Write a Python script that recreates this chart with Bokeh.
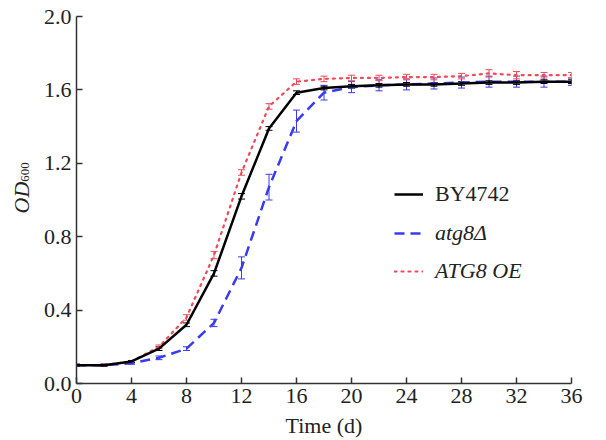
import numpy as np
from bokeh.plotting import figure
from bokeh.layouts import row
from bokeh.models import (ColumnDataSource, Whisker, TeeHead, Legend, LegendItem,
                          FixedTicker, Range1d)
from bokeh.core.properties import value
from bokeh.embed import file_html
from bokeh.resources import INLINE

days = [0, 2, 4, 6, 8, 10, 12, 14, 16, 18, 20, 22, 24, 26, 28, 30, 32, 34, 36]
by4742 = [0.10, 0.10, 0.12, 0.19, 0.32, 0.60, 1.02, 1.39, 1.585, 1.61, 1.62, 1.625, 1.63, 1.63, 1.635, 1.64, 1.64, 1.645, 1.645]
by4742_err = [0.005, 0.005, 0.005, 0.01, 0.01, 0.015, 0.015, 0.01, 0.01, 0.01, 0.01, 0.01, 0.01, 0.01, 0.01, 0.01, 0.01, 0.01, 0.01]
atg8d = [0.10, 0.10, 0.11, 0.14, 0.19, 0.33, 0.63, 1.07, 1.43, 1.585, 1.615, 1.625, 1.63, 1.635, 1.64, 1.645, 1.645, 1.645, 1.645]
atg8d_err = [0.005, 0.005, 0.005, 0.01, 0.01, 0.02, 0.06, 0.07, 0.06, 0.04, 0.03, 0.03, 0.03, 0.03, 0.03, 0.03, 0.03, 0.03, 0.02]
atg8oe = [0.10, 0.10, 0.12, 0.20, 0.36, 0.70, 1.15, 1.51, 1.645, 1.66, 1.665, 1.665, 1.67, 1.67, 1.675, 1.69, 1.68, 1.68, 1.68]
atg8oe_err = [0.005, 0.005, 0.005, 0.01, 0.015, 0.02, 0.015, 0.015, 0.015, 0.015, 0.015, 0.015, 0.015, 0.015, 0.015, 0.02, 0.02, 0.015, 0.015]

x_ticks = [0, 4, 8, 12, 16, 20, 24, 28, 32, 36]
y_ticks = [0.0, 0.4, 0.8, 1.2, 1.6, 2.0]
y_tick_labels = {0.0: "0.0", 0.4: "0.4", 0.8: "0.8", 1.2: "1.2", 1.6: "1.6", 2.0: "2.0"}
y_title_main = "OD"
y_title_sub = "600"

FONT = "Liberation Serif"
BLUE = "#3a3aee"
RED = "#ee4a5a"
H = 440
LW = 40            # width of the strip holding the y title
BL, BB = 75 - LW, 57

# ---- narrow strip with the y-axis title (OD with subscript 600) ----
lf = figure(width=LW, height=H, output_backend="svg", toolbar_location=None,
            x_range=Range1d(0, LW), y_range=Range1d(0, H),
            min_border=0, min_border_left=0, min_border_right=0,
            min_border_top=0, min_border_bottom=0)
lf.axis.visible = False
lf.grid.visible = False
lf.outline_line_color = None
lf.text(x=[21], y=[H - 198], text=[y_title_main], angle=np.pi / 2,
        text_font=value(FONT), text_font_size="22px", text_font_style="italic",
        text_align="right", text_baseline="alphabetic", text_color="#222222")
lf.text(x=[24], y=[H - 198], text=[y_title_sub], angle=np.pi / 2,
        text_font=value(FONT), text_font_size="13px", text_font_style="normal",
        text_align="left", text_baseline="alphabetic", text_color="#222222")

# ---- main chart ----
p = figure(width=600 - LW, height=H, output_backend="svg", toolbar_location=None,
           x_range=Range1d(0, 36), y_range=Range1d(0, 2.0),
           min_border_left=BL, min_border_right=29, min_border_top=16, min_border_bottom=BB)
p.outline_line_color = None
p.xgrid.visible = False
p.ygrid.visible = False

for ax in (p.xaxis[0], p.yaxis[0]):
    ax.axis_line_color = "#333333"
    ax.axis_line_width = 1.5
    ax.major_tick_line_color = "#333333"
    ax.major_tick_line_width = 1.5
    ax.major_tick_in = 6
    ax.major_tick_out = 0
    ax.minor_tick_line_color = None
    ax.major_label_text_font = FONT
    ax.major_label_text_font_size = "22px"
    ax.major_label_text_color = "#222222"

p.xaxis.ticker = FixedTicker(ticks=x_ticks)
p.yaxis.ticker = FixedTicker(ticks=y_ticks)
p.yaxis.major_label_overrides = y_tick_labels
p.xaxis.major_label_standoff = 5
p.yaxis.major_label_standoff = 5
p.xaxis.axis_label = "Time (d)"
p.xaxis.axis_label_text_font = FONT
p.xaxis.axis_label_text_font_size = "22px"
p.xaxis.axis_label_text_font_style = "normal"
p.xaxis.axis_label_standoff = 7
p.xaxis.axis_label_text_color = "#222222"

def whisk(vals, errs, color):
    v = np.array(vals); e = np.array(errs)
    src = ColumnDataSource(dict(x=days, upper=v + e, lower=v - e))
    w = Whisker(base="x", upper="upper", lower="lower", source=src,
                line_color=color, line_width=1,
                upper_head=TeeHead(size=7, line_color=color, line_width=1),
                lower_head=TeeHead(size=7, line_color=color, line_width=1))
    p.add_layout(w)

r_blue = p.line(days, atg8d, line_color=BLUE, line_width=2.5, line_dash="10 6")
whisk(atg8d, atg8d_err, BLUE)
r_red = p.line(days, atg8oe, line_color=RED, line_width=2.2, line_dash="2 5", line_cap="round")
whisk(atg8oe, atg8oe_err, RED)
r_black = p.line(days, by4742, line_color="black", line_width=2.5)
whisk(by4742, by4742_err, "black")

def leg(renderer, label, style, loc):
    lg = Legend(items=[LegendItem(label=label, renderers=[renderer])], location=loc,
                label_text_font=FONT, label_text_font_size="22px",
                label_text_font_style=style, label_text_color="#222222",
                glyph_width=29, label_standoff=12, border_line_color=None,
                background_fill_alpha=0, padding=0, margin=0)
    p.add_layout(lg, "center")

leg(r_black, "BY4742", "normal", (318, 176))
leg(r_blue, "atg8Δ", "italic", (318, 137))
leg(r_red, "ATG8 OE", "italic", (318, 99))

layout = row(lf, p, spacing=0)
open("out.html", "w").write(file_html(layout, INLINE))
